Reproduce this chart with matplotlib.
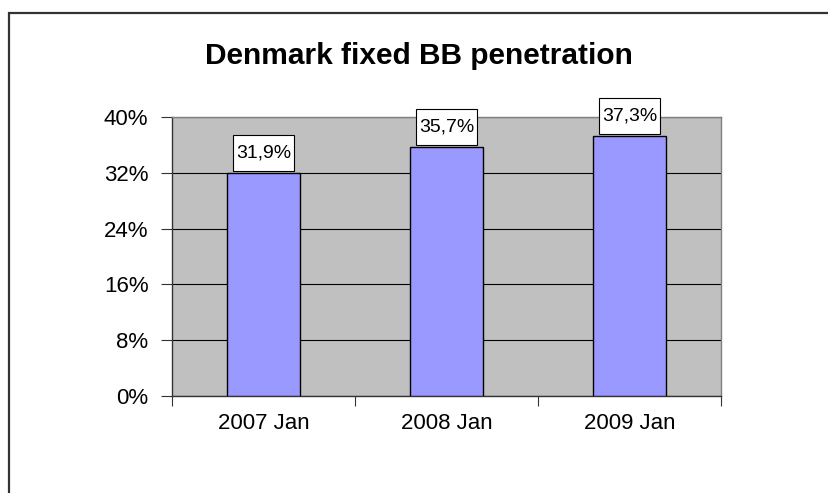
import matplotlib.pyplot as plt
from matplotlib.patches import Rectangle
from matplotlib.ticker import FuncFormatter

plt.rcParams['font.family'] = ['Liberation Sans', 'DejaVu Sans']

categories = ['2007 Jan', '2008 Jan', '2009 Jan']
penetration = [31.9, 35.7, 37.3]
value_labels = ['31,9%', '35,7%', '37,3%']
y_ticks = [0, 8, 16, 24, 32, 40]

fig = plt.figure(figsize=(8.29, 4.93), dpi=100)
ax = fig.add_axes([172 / 829, 1 - 396 / 493, (721 - 172) / 829, (396 - 117) / 493])

# chart border (right and bottom edges are cut off in the original)
fig.patches.append(Rectangle((9 / 829, -0.1), 1.2, 1 - 13 / 493 + 0.1,
                             transform=fig.transFigure, fill=False,
                             edgecolor='#333333', linewidth=1.6))

ax.set_facecolor('#C0C0C0')
x = range(len(categories))
ax.bar(x, penetration, width=0.4, color='#9999FF', edgecolor='black',
       linewidth=1.0, zorder=3)

labels = []
for xi, v, lab in zip(x, penetration, value_labels):
    t = ax.annotate(lab, (xi, v), xytext=(0, 8.3), textcoords='offset points',
                    ha='center', va='bottom', fontsize=14, zorder=6,
                    annotation_clip=False)
    labels.append(t)

ax.set_xlim(-0.5, 2.5)
ax.set_ylim(0, 40)
ax.set_yticks(y_ticks)
ax.yaxis.set_major_formatter(FuncFormatter(lambda v, p: '%d%%' % v))
ax.yaxis.grid(True, color='black', linewidth=0.8, zorder=1)
ax.set_axisbelow(True)

ax.set_xticks([-0.5, 0.5, 1.5, 2.5], minor=False)
ax.set_xticklabels([])
ax.set_xticks(list(x), minor=True)
ax.set_xticklabels(categories, minor=True)
ax.tick_params(axis='x', which='minor', length=0, labelsize=16, pad=12)
ax.tick_params(axis='x', which='major', length=7, width=0.8, color='#333333')
ax.tick_params(axis='y', length=8, width=0.8, labelsize=16, pad=9, color='#333333')

for side in ['top', 'right']:
    ax.spines[side].set_color('#808080')
    ax.spines[side].set_linewidth(1.0)
for side in ['left', 'bottom']:
    ax.spines[side].set_color('#333333')
    ax.spines[side].set_linewidth(1.0)

fig.text(419 / 829, 1 - 64 / 493, 'Denmark fixed BB penetration',
         ha='center', va='baseline', fontsize=21.5, fontweight='bold')

# white boxes behind the value labels, sized from the rendered text
fig.canvas.draw()
renderer = fig.canvas.get_renderer()
inv = ax.transAxes.inverted()
for t in labels:
    bb = t.get_window_extent(renderer)
    (x0, y0), (x1, y1) = inv.transform([(bb.x0 - 3, bb.y0 - 9.5),
                                        (bb.x1 + 3, bb.y1 + 9.5)])
    ax.add_patch(Rectangle((x0, y0), x1 - x0, y1 - y0, transform=ax.transAxes,
                           facecolor='white', edgecolor='black',
                           linewidth=0.8, zorder=5, clip_on=False))

fig.savefig('out.png', dpi=100)
